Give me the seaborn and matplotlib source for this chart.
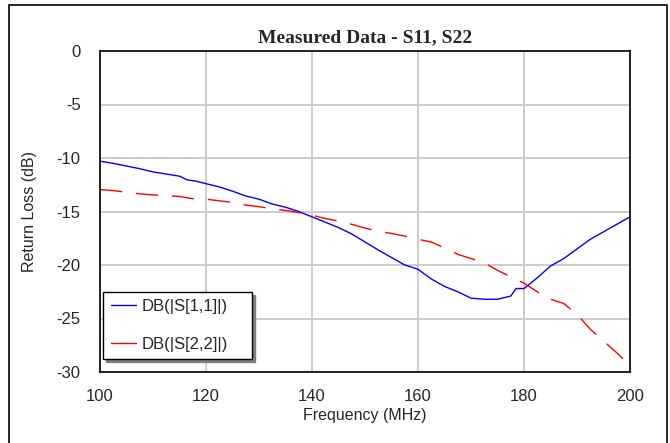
import matplotlib
matplotlib.use("Agg")
import matplotlib.pyplot as plt
from matplotlib.patches import Rectangle
import seaborn as sns

freq_s11 = [100, 102.5, 105, 107.5, 110, 112.5, 115, 116.5, 118, 120, 122.5, 125,
            127.5, 130, 132.5, 135, 137.5, 140, 142.5, 145, 147.5, 150, 152.5, 155,
            157.5, 160, 162.5, 165, 167.5, 170, 172.5, 175, 177.5, 178.5, 180, 182.5,
            185, 187.5, 190, 192.5, 195, 197.5, 200]
s11_db = [-10.3, -10.5, -10.75, -11.0, -11.3, -11.5, -11.7, -12.05, -12.15, -12.4, -12.7, -13.1,
          -13.55, -13.85, -14.3, -14.6, -15.0, -15.5, -16.0, -16.5, -17.1, -17.85, -18.6, -19.3,
          -20.0, -20.4, -21.3, -22.0, -22.5, -23.1, -23.2, -23.2, -22.9, -22.2, -22.2, -21.2,
          -20.1, -19.4, -18.5, -17.6, -16.9, -16.2, -15.5]

freq_s22 = [100, 102.5, 105, 107.5, 110, 112.5, 115, 117.5, 120, 122.5, 125, 127.5,
            130, 132.5, 135, 137.5, 140, 142.5, 145, 147.5, 150, 152.5, 155, 157.5,
            160, 162.5, 165, 167.5, 170, 172.5, 175, 177.5, 180, 182.5, 185, 187.5,
            190, 192.5, 195, 197.5, 200]
s22_db = [-12.95, -13.05, -13.2, -13.35, -13.45, -13.5, -13.6, -13.8, -13.85, -14.0, -14.15, -14.4,
          -14.55, -14.75, -14.9, -15.1, -15.35, -15.65, -15.9, -16.2, -16.55, -16.85, -17.05, -17.3,
          -17.6, -17.85, -18.4, -19.0, -19.4, -19.8, -20.5, -21.1, -21.7, -22.5, -23.2, -23.6,
          -24.6, -26.0, -27.1, -28.2, -29.4]

x_ticks = [100, 120, 140, 160, 180, 200]
y_ticks = [0, -5, -10, -15, -20, -25, -30]

sns.set_style("white")
plt.rcParams["font.family"] = ["Liberation Sans", "DejaVu Sans"]
plt.rcParams["axes.unicode_minus"] = False

fig = plt.figure(figsize=(6.7, 4.43), dpi=100)
ax = fig.add_axes([100 / 670, 1 - 372 / 443, 530 / 670, 321 / 443])

sns.lineplot(x=freq_s11, y=s11_db, ax=ax, color="blue", linewidth=1.0, label="DB(|S[1,1]|)")
sns.lineplot(x=freq_s22, y=s22_db, ax=ax, color="red", linewidth=1.0, label="DB(|S[2,2]|)")
ax.lines[1].set_dashes((16, 10))

ax.set_xlim(100, 200)
ax.set_ylim(-30, 0)
ax.set_xticks(x_ticks)
ax.set_yticks(y_ticks)
ax.grid(True, color="#cccccc", linewidth=1.4)
ax.tick_params(length=0, labelsize=12)
ax.tick_params(axis="x", pad=12)
ax.tick_params(axis="y", pad=14)
for sp in ax.spines.values():
    sp.set_color("black")
    sp.set_linewidth(1.2)

ax.set_title("Measured Data - S11, S22", fontsize=14, fontweight="bold",
             family="Liberation Serif", pad=6)
ax.set_xlabel("Frequency (MHz)", fontsize=11.5)
ax.set_ylabel("Return Loss (dB)", fontsize=11.5)
ax.xaxis.set_label_coords(0.5, -0.112)
ax.yaxis.set_label_coords(-0.119, 0.5)

# legend with solid handles and a grey drop shadow
leg = ax.legend(loc="upper left", bbox_to_anchor=(0.006, 0.0, 0.281, 0.25), mode="expand",
                fontsize=12, fancybox=False, shadow={"color": "0.5", "alpha": 1},
                framealpha=1, edgecolor="black", handlelength=1.5, handletextpad=0.35,
                borderpad=0.45, borderaxespad=0, labelspacing=1.35)
leg.get_frame().set_linewidth(1.0)
for h in leg.get_lines():
    h.set_linestyle("-")

# outer border of the chart
fig.patches.append(Rectangle((9 / 670, -0.05), 658 / 670, 1.05 - 5 / 443,
                             transform=fig.transFigure, fill=False,
                             edgecolor="black", linewidth=1.2))

fig.savefig("out.png", dpi=100)
